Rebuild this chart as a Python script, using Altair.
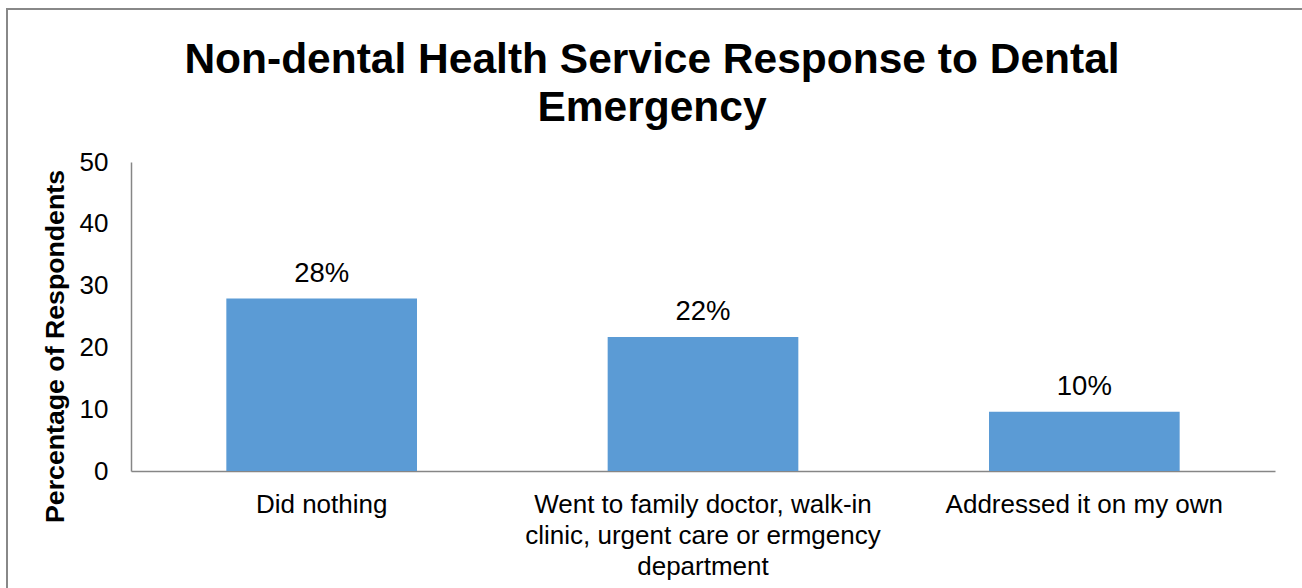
import altair as alt
import pandas as pd

categories = [
    "Did nothing",
    "Went to family doctor, walk-in\nclinic, urgent care or ermgency\ndepartment",
    "Addressed it on my own",
]
values = [27.9, 21.7, 9.6]
y_ticks = [0, 10, 20, 30, 40, 50]
title_lines = ["Non-dental Health Service Response to Dental", "Emergency"]
y_title = "Percentage of Respondents"

FONT = "Liberation Sans"
BAR = "#5B9BD5"
GREY = "#868686"

df = pd.DataFrame({"category": categories, "value": values})

x_enc = alt.X(
    "category:N",
    sort=categories,
    title=None,
    scale=alt.Scale(paddingInner=0.5, paddingOuter=0.25),
    axis=alt.Axis(
        labelAngle=0,
        labelFontSize=26,
        labelFont=FONT,
        labelColor="#000000",
        labelPadding=20,
        labelBaseline="top",
        labelLineHeight=31,
        labelLimit=600,
        labelExpr="split(datum.label, '\\n')",
        ticks=False,
        tickSize=0,
        domainColor=GREY,
        domainWidth=1.5,
        grid=False,
    ),
)

y_enc = alt.Y(
    "value:Q",
    scale=alt.Scale(domain=[0, 50], nice=False),
    axis=alt.Axis(
        values=y_ticks,
        title=y_title,
        titleFont=FONT,
        titleFontSize=26.7,
        titleFontWeight="bold",
        titleColor="#000000",
        titleAngle=270,
        titleX=-68,
        titleY=184,
        titleAlign="center",
        titleBaseline="alphabetic",
        labelFontSize=26,
        labelFont=FONT,
        labelColor="#000000",
        labelPadding=23,
        ticks=False,
        tickSize=0,
        domainColor=GREY,
        domainWidth=1.5,
        grid=False,
    ),
)

bars = alt.Chart(df).mark_bar(color=BAR).encode(x=x_enc, y=y_enc)

labels = (
    alt.Chart(df)
    .transform_calculate(label="format(datum.value, '.0f') + '%'")
    .mark_text(font=FONT, fontSize=27.5, color="#000000", baseline="alphabetic", dy=-17)
    .encode(x=alt.X("category:N", sort=categories), y="value:Q", text="label:N")
)

border = (
    alt.Chart(pd.DataFrame({"k": [0]}))
    .mark_rect(fill="transparent", stroke="#888888", strokeWidth=2)
    .encode(
        x=alt.value(-124),
        x2=alt.value(1230),
        y=alt.value(-153),
        y2=alt.value(480),
    )
)

chart = (
    alt.layer(border, bars, labels)
    .properties(
        width=1144,
        height=309,
        autosize=alt.AutoSizeParams(type="none"),
        padding={"left": 131, "top": 162, "right": 27, "bottom": 117},
        title=alt.TitleParams(
            text=title_lines,
            font=FONT,
            fontSize=42.5,
            fontWeight="bold",
            color="#000000",
            anchor="middle",
            baseline="top",
            lineHeight=48,
            dx=-51,
            offset=-121,
        ),
    )
    .configure(background="white")
    .configure_view(stroke="transparent", strokeWidth=0)
)

chart.save("out.html", embed_options={"renderer": "svg", "actions": False})
